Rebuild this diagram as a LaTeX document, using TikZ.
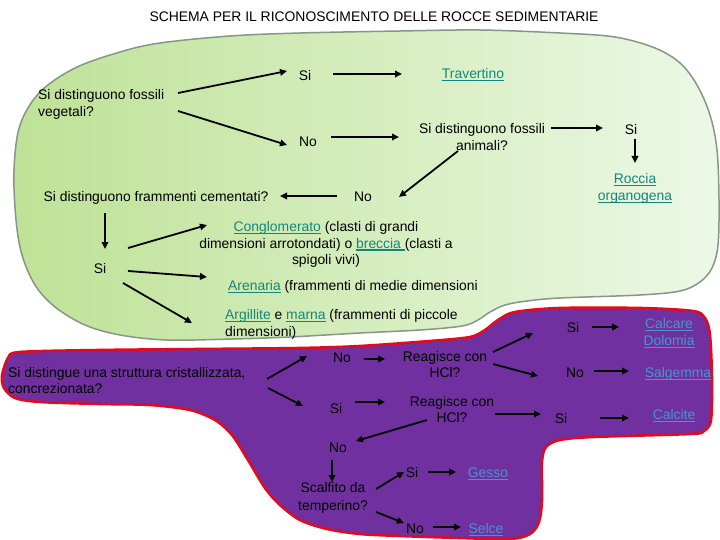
\documentclass[tikz,border=0pt]{standalone}
\usepackage{fontspec}
\setmainfont{Liberation Sans}
\usetikzlibrary{arrows.meta}
\definecolor{lnkgreen}{RGB}{20,135,120}
\definecolor{lnkblue}{RGB}{70,150,205}
\definecolor{purp}{RGB}{112,48,160}
\definecolor{redline}{RGB}{225,10,30}
\definecolor{greenedge}{RGB}{135,150,135}
\definecolor{greenL}{RGB}{190,226,150}
\definecolor{greenR}{RGB}{236,248,230}
\newcommand{\lnkA}[1]{\leavevmode\setbox0\hbox{#1}\rlap{\raisebox{-2.4pt}{\rule{\wd0}{1.2pt}}}\box0}
\begin{document}
\begin{tikzpicture}[x=1pt,y=-1pt,
  every node/.style={inner sep=0pt, font=\fontsize{13.9}{17}\selectfont},
  arr/.style={line width=1.8pt, -{Triangle[length=7pt,width=6.5pt]}},
  lkg/.style={text=lnkgreen},
  lkb/.style={text=lnkblue}]
\useasboundingbox (0,0) rectangle (720,540);
\fill[white] (0,0) rectangle (720,540);
% green region
\draw[draw=greenedge, line width=1.5pt, left color=greenL, right color=greenR]
  plot[smooth cycle, tension=0.55] coordinates {
  (14,170) (20,125) (40,92) (75,68) (120,52) (160,43) (230,36) (300,33) (400,31)
  (480,30) (560,33) (615,37) (655,48) (680,63) (697,85) (710,115) (717,150)
  (719,200) (718,245) (712,268) (700,282) (680,291) (640,295) (560,298) (527,301)
  (505,305) (490,312) (478,320) (462,326) (420,330) (360,333) (290,337) (233,339)
  (167,340) (120,335) (85,325) (55,307) (35,285) (22,255) (16,220)};
% purple region
\draw[draw=redline, line width=2.6pt, fill=purp]
  plot[smooth cycle, tension=0.5] coordinates {
  (8,358) (20,352) (100,350) (200,349) (300,348) (360,346) (430,341) (470,337)
  (485,330) (498,320) (515,312) (560,308) (640,308) (693,311) (705,318) (710,335)
  (712,380) (711,420) (704,431) (690,434) (593,437) (560,440) (546,447) (542,462)
  (542,500) (539,522) (530,534) (510,539) (460,538) (400,536) (360,534) (327,529)
  (300,520) (280,505) (265,488) (248,460) (232,435) (215,420) (190,410) (150,405)
  (100,404) (40,402) (15,398) (4,388) (2,376)};
% title
\node[anchor=base] (title) at (374,21.5) {SCHEMA PER IL RICONOSCIMENTO DELLE ROCCE SEDIMENTARIE};
% green nodes
\node[anchor=north west, align=left] (vegq) at (38,89.4) {Si distinguono fossili\\vegetali?};
\node[anchor=base] (siA) at (305,80.5) {Si};
\node[anchor=base, lkg] (trav) at (473,78.5) {\lnkA{Travertino}};
\node[anchor=base] (noA) at (308,146.5) {No};
\node[anchor=north, align=center] (anim) at (482,123.4) {Si distinguono fossili\\animali?};
\node[anchor=base] (siB) at (631,134.5) {Si};
\node[anchor=north, align=center, lkg] (rocc) at (635,173.4) {\lnkA{Roccia}\\\lnkA{organogena}};
\node[anchor=base] (noB) at (363,201.5) {No};
\node[anchor=base] (framm) at (156,201.5) {Si distinguono frammenti cementati?};
\node[anchor=base] (siC) at (100,273.5) {Si};
\node[anchor=north, align=center, font=\fontsize{13.9}{16.5}\selectfont] (congl) at (326,221.4)
  {{\color{lnkgreen}\lnkA{Conglomerato}} (clasti di grandi\\dimensioni arrotondati) o {\color{lnkgreen}\lnkA{breccia\ }}(clasti a\\spigoli vivi)};
\node[anchor=base west] (aren) at (228,290.5) {{\color{lnkgreen}\lnkA{Arenaria}} (frammenti di medie dimensioni};
\node[anchor=north west, align=left] (argil) at (225,309.4)
  {{\color{lnkgreen}\lnkA{Argillite}} e {\color{lnkgreen}\lnkA{marna}} (frammenti di piccole\\dimensioni)};
% purple nodes
\node[anchor=north west, align=left, font=\fontsize{13.9}{16}\selectfont] (strut) at (8,367.4)
  {Si distingue una struttura cristallizzata,\\concrezionata?};
\node[anchor=base] (noC) at (342,362.5) {No};
\node[anchor=base] (siD) at (336,413.5) {Si};
\node[anchor=north, align=center, font=\fontsize{13.9}{16}\selectfont] (reag1) at (445,351.4) {Reagisce con\\HCl?};
\node[anchor=north, align=center, font=\fontsize{13.9}{16}\selectfont] (reag2) at (452,396.4) {Reagisce con\\HCl?};
\node[anchor=base] (siE) at (573,332.5) {Si};
\node[anchor=north, align=center, lkb] (calc) at (669,318.4) {\lnkA{Calcare}\\\lnkA{Dolomia}};
\node[anchor=base] (noD) at (575,377.5) {No};
\node[anchor=base, lkb] (salg) at (678,377.5) {\lnkA{Salgemma}};
\node[anchor=base] (siF) at (561,423.5) {Si};
\node[anchor=base, lkb] (calcite) at (674,419.5) {\lnkA{Calcite}};
\node[anchor=base] (noE) at (338,452.5) {No};
\node[anchor=north, align=center, font=\fontsize{13.9}{17.5}\selectfont] (scalf) at (333,482.4) {Scalfito da\\temperino?};
\node[anchor=base] (siG) at (412,477.5) {Si};
\node[anchor=base, lkb] (gesso) at (488,477.5) {\lnkA{Gesso}};
\node[anchor=base] (noF) at (415,533.5) {No};
\node[anchor=base, lkb] (selce) at (486,533.5) {\lnkA{Selce}};
% connectors green
\draw[arr] ([shift={(140,3.6)}]vegq.north west) -- ([shift={(-18,-9.5)}]siA.base);
\draw[arr] ([shift={(140,21.6)}]vegq.north west) -- ([shift={(-21,-1.5)}]noA.base);
\draw[arr] ([shift={(28,-6.5)}]siA.base) -- ([shift={(-71,-4.5)}]trav.base);
\draw[arr] ([shift={(23,-9.5)}]noA.base) -- ([shift={(-83,13.6)}]anim.north);
\draw[arr] ([shift={(69,4.6)}]anim.north) -- ([shift={(-28,-6.5)}]siB.base);
\draw[arr] ([shift={(4,4.5)}]siB.base) -- ([shift={(0,-10.4)}]rocc.north);
\draw[arr] ([shift={(-24,27.6)}]anim.north) -- ([shift={(36,-4.5)}]noB.base);
\draw[arr] ([shift={(-26,-5.5)}]noB.base) -- ([shift={(124,-5.5)}]framm.base);
\draw[arr] ([shift={(-51,11.5)}]framm.base) -- ([shift={(5,-24.5)}]siC.base);
\draw[arr] ([shift={(28,-25.5)}]siC.base) -- ([shift={(-119,3.6)}]congl.north);
\draw[arr] ([shift={(28,-2.5)}]siC.base) -- ([shift={(-21,-13.5)}]aren.base west);
\draw[arr] ([shift={(23,9.5)}]siC.base) -- ([shift={(-33,13.6)}]argil.north west);
% connectors purple
\draw[arr] ([shift={(259,11.6)}]strut.north west) -- ([shift={(-35,-6.5)}]noC.base);
\draw[arr] ([shift={(260,20.6)}]strut.north west) -- ([shift={(-33,-7.5)}]siD.base);
\draw[arr] ([shift={(22,-3.5)}]noC.base) -- ([shift={(-60,7.6)}]reag1.north);
\draw[arr] ([shift={(19,-11.5)}]siD.base) -- ([shift={(-67,5.6)}]reag2.north);
\draw[arr] ([shift={(48,0.6)}]reag1.north) -- ([shift={(-40,0.5)}]siE.base);
\draw[arr] ([shift={(48,12.6)}]reag1.north) -- ([shift={(-37,-1.5)}]noD.base);
\draw[arr] ([shift={(19,-5.5)}]siE.base) -- ([shift={(-50,8.6)}]calc.north);
\draw[arr] ([shift={(19,-6.5)}]noD.base) -- ([shift={(-49,-6.5)}]salg.base);
\draw[arr] ([shift={(43,17.6)}]reag2.north) -- ([shift={(-20,-9.5)}]siF.base);
\draw[arr] ([shift={(39,-5.5)}]siF.base) -- ([shift={(-45,-1.5)}]calcite.base);
\draw[arr] ([shift={(-25,23.6)}]reag2.north) -- ([shift={(18,-11.5)}]noE.base);
\draw[arr] ([shift={(-6,7.5)}]noE.base) -- ([shift={(-1,-0.4)}]scalf.north);
\draw[arr] ([shift={(43,6.6)}]scalf.north) -- ([shift={(-8,-5.5)}]siG.base);
\draw[arr] ([shift={(43,29.6)}]scalf.north) -- ([shift={(-11,-10.5)}]noF.base);
\draw[arr] ([shift={(16,-5.5)}]siG.base) -- ([shift={(-32,-5.5)}]gesso.base);
\draw[arr] ([shift={(18,-6.5)}]noF.base) -- ([shift={(-25,-6.5)}]selce.base);
\end{tikzpicture}
\end{document}
